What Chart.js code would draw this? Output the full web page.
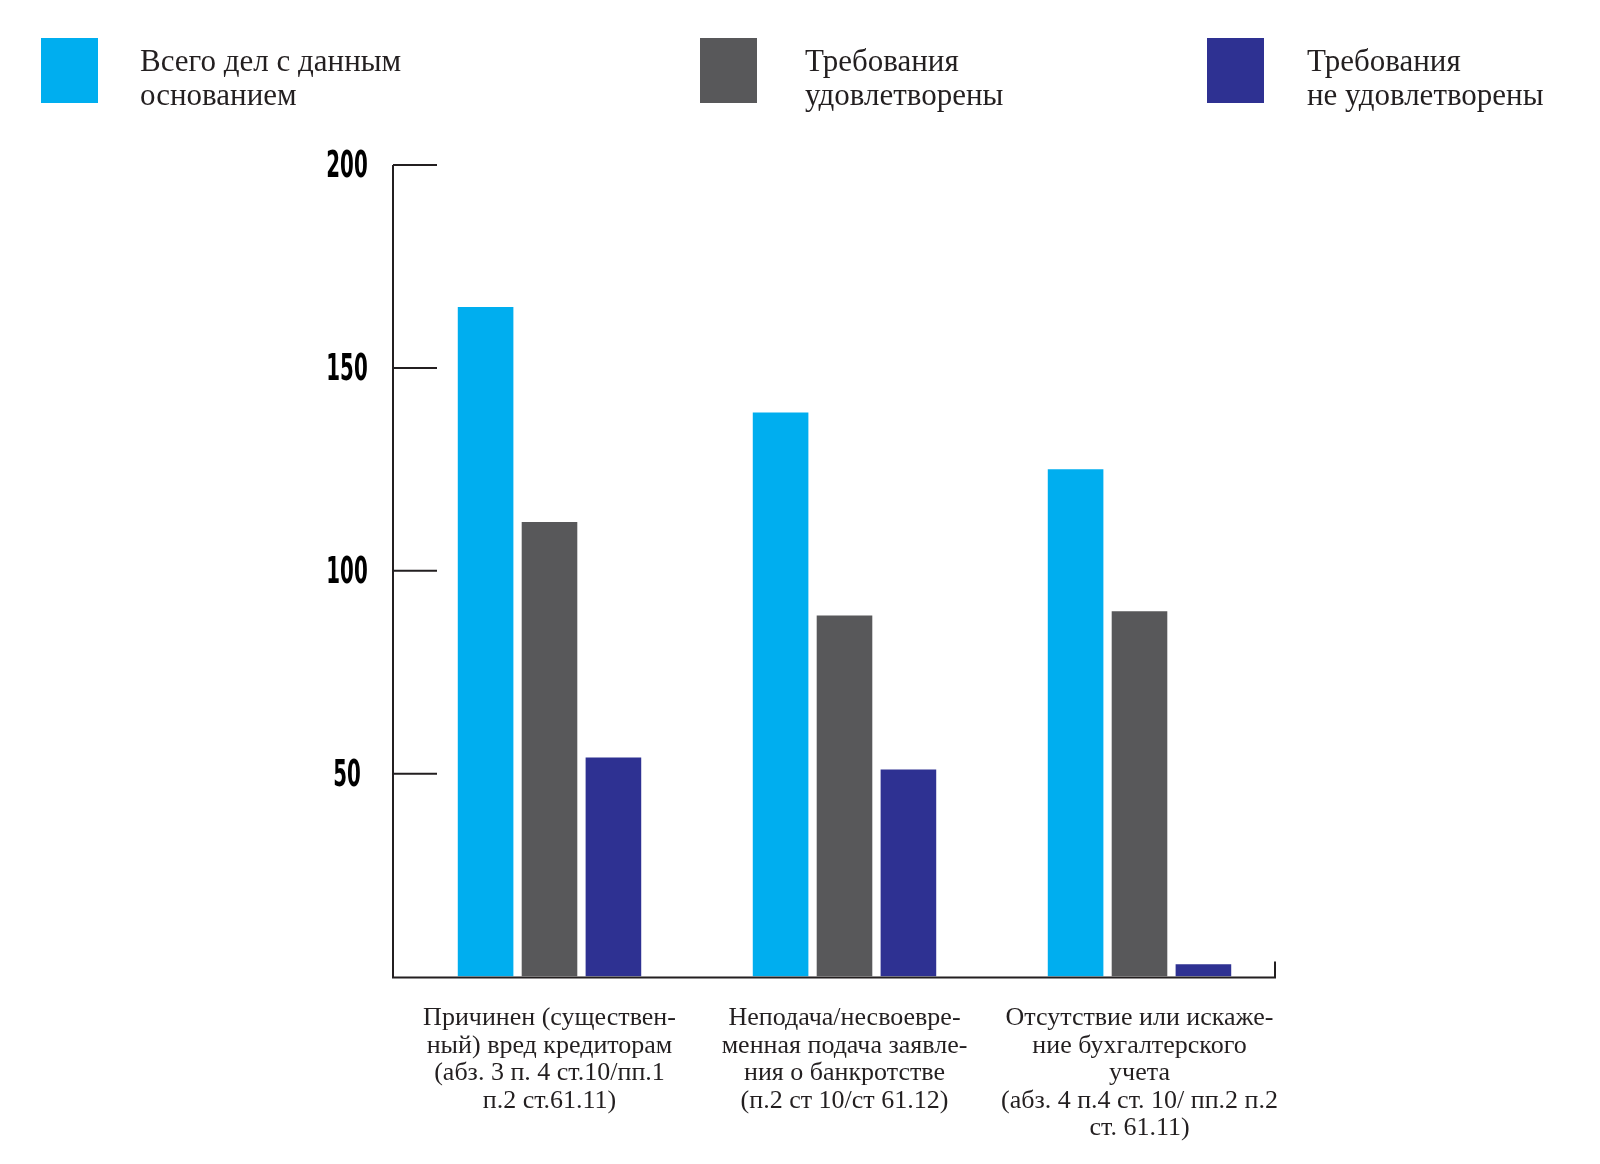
<!DOCTYPE html>
<html><head><meta charset="utf-8">
<script src="https://cdn.jsdelivr.net/npm/chart.js@4"></script>
<style>
html,body{margin:0;padding:0;background:#fff;}
#wrap{position:relative;width:1600px;height:1164px;overflow:hidden;}
canvas{position:absolute;left:0;top:0;}
.leg{position:absolute;font-family:"Liberation Serif","DejaVu Serif",serif;font-size:31px;line-height:34px;color:#231f20;white-space:nowrap;}
.sw{position:absolute;}
</style></head><body>
<div id="wrap"><canvas id="c" width="1600" height="1164"></canvas><div id="legend"></div></div>
<script>
const categories = [
  ["Причинен (существен-", "ный) вред кредиторам", "(абз. 3 п. 4 ст.10/пп.1", "п.2 ст.61.11)"],
  ["Неподача/несвоевре-", "менная подача заявле-", "ния о банкротстве", "(п.2 ст 10/ст 61.12)"],
  ["Отсутствие или искаже-", "ние бухгалтерского", "учета", "(абз. 4 п.4 ст. 10/ пп.2 п.2", "ст. 61.11)"]
];
const seriesNames = [
  ["Всего дел с данным", "основанием"],
  ["Требования", "удовлетворены"],
  ["Требования", "не удовлетворены"]
];
const totalCases = [165, 139, 125];
const satisfied = [112, 89, 90];
const notSatisfied = [54, 51, 3];
const yTicks = [50, 100, 150, 200];
const colors = ['#00aeef', '#58585a', '#2e3192'];

// legend layout (style)
const legendSwatchX = [41, 700, 1207];
const legendTextX = [140, 805, 1307];
const legendEl = document.getElementById('legend');
seriesNames.forEach((name, i) => {
  const sw = document.createElement('div');
  sw.className = 'sw';
  sw.style.cssText = `left:${legendSwatchX[i]}px;top:38px;width:57px;height:65px;background:${colors[i]};`;
  legendEl.appendChild(sw);
  const t = document.createElement('div');
  t.className = 'leg';
  t.style.left = legendTextX[i] + 'px';
  t.style.top = '44px';
  t.innerHTML = name.join('<br>');
  legendEl.appendChild(t);
});

const axesPlugin = {
  id: 'axes',
  afterDatasetsDraw(chart) {
    const {ctx, chartArea: a, scales: {y}} = chart;
    const x0 = a.left - 9;
    const y0 = y.getPixelForValue(0) + 1;
    const yTop = y.getPixelForValue(200);
    const xEnd = a.right - 12;
    ctx.save();
    ctx.strokeStyle = '#231f20';
    ctx.lineWidth = 2;
    ctx.beginPath();
    ctx.moveTo(x0, yTop);
    ctx.lineTo(x0, y0);
    ctx.lineTo(xEnd, y0);
    ctx.lineTo(xEnd, y0 - 16);
    yTicks.forEach(v => {
      const py = y.getPixelForValue(v);
      ctx.moveTo(x0, py);
      ctx.lineTo(x0 + 44, py);
    });
    ctx.stroke();
    // condensed tick labels, positioned by the y scale
    ctx.fillStyle = '#000';
    ctx.font = 'bold 38px "DejaVu Sans Condensed","DejaVu Sans",sans-serif';
    ctx.textAlign = 'center';
    ctx.textBaseline = 'middle';
    y.ticks.forEach(t => {
      const py = y.getPixelForValue(t.value);
      ctx.save();
      ctx.translate(x0 - 46, py + 2);
      ctx.scale(0.58, 1);
      ctx.fillText(String(t.value), 0, 0);
      ctx.restore();
    });
    ctx.restore();
  }
};

new Chart(document.getElementById('c'), {
  type: 'bar',
  data: {
    labels: categories,
    datasets: [
      {label: seriesNames[0].join(' '), data: totalCases, backgroundColor: colors[0]},
      {label: seriesNames[1].join(' '), data: satisfied, backgroundColor: colors[1]},
      {label: seriesNames[2].join(' '), data: notSatisfied, backgroundColor: colors[2]}
    ]
  },
  options: {
    responsive: false,
    animation: false,
    layout: {padding: {left: 0, right: 313, top: 165, bottom: 0}},
    datasets: {bar: {categoryPercentage: 0.65, barPercentage: 0.87}},
    plugins: {legend: {display: false}, tooltip: {enabled: false}},
    scales: {
      x: {
        grid: {display: false, drawTicks: false},
        border: {display: false},
        ticks: {
          font: {family: '"Liberation Serif","DejaVu Serif",serif', size: 26, lineHeight: 1.06},
          color: '#231f20', padding: 28, maxRotation: 0, minRotation: 0, autoSkip: false
        },
        afterFit(s) { s.height = 1164 - 976.5; }
      },
      y: {
        min: 0, max: 200,
        afterBuildTicks(s) { s.ticks = yTicks.map(v => ({value: v})); },
        grid: {display: false, drawTicks: false},
        border: {display: false},
        ticks: {display: false},
        afterFit(s) { s.width = 402; }
      }
    }
  },
  plugins: [axesPlugin]
});
</script>
</body></html>
